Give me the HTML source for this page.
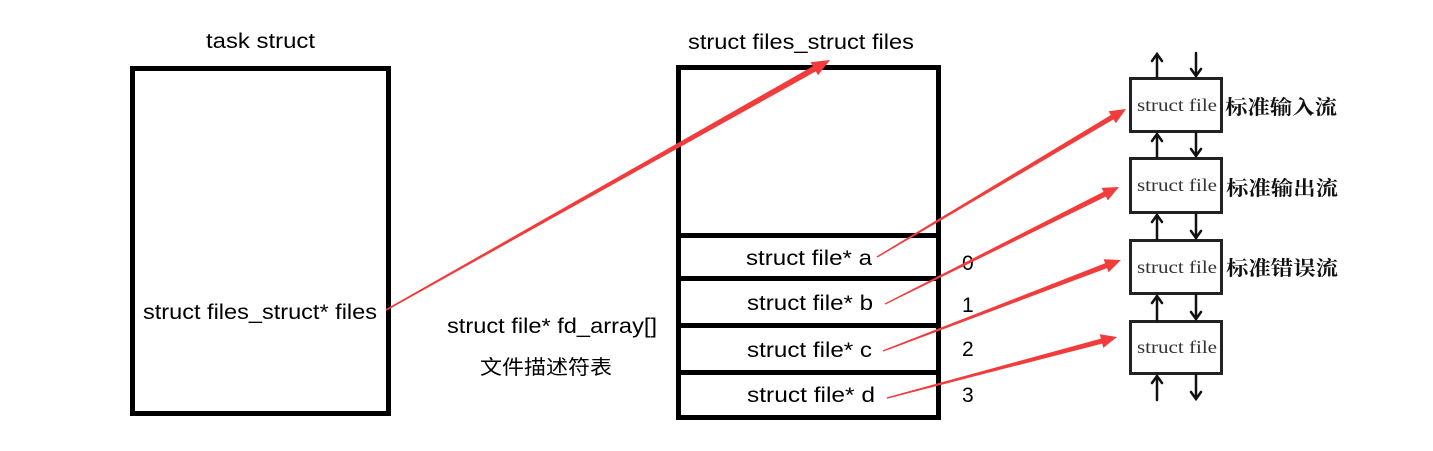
<!DOCTYPE html>
<html><head><meta charset="utf-8"><style>
html,body{margin:0;padding:0;background:#fff;}
svg{display:block;}
.t{font-family:"Liberation Sans","Noto Sans CJK SC",sans-serif;font-size:21px;fill:#000;}
.c{font-family:"Liberation Sans","Noto Sans CJK SC",sans-serif;font-size:20px;fill:#000;}
.s{font-family:"Liberation Serif",serif;font-size:18px;fill:#333;}
.z{font-family:"Liberation Serif","Noto Serif CJK SC",serif;font-size:20px;fill:#111;font-weight:bold;}
</style></head><body>
<svg width="1433" height="451" viewBox="0 0 1433 451" xmlns="http://www.w3.org/2000/svg">
<rect width="1433" height="451" fill="#fff"/>
<!-- left box -->
<rect x="132.5" y="68.5" width="256" height="345" fill="none" stroke="#000" stroke-width="5"/>
<text class="t" x="206" y="48" textLength="109" lengthAdjust="spacingAndGlyphs">task  struct</text>
<text class="t" x="143" y="319" textLength="234" lengthAdjust="spacingAndGlyphs">struct files_struct* files</text>
<!-- middle box -->
<rect x="678.5" y="67.5" width="260" height="350" fill="none" stroke="#000" stroke-width="5"/>
<line x1="676" y1="235.5" x2="941" y2="235.5" stroke="#000" stroke-width="5"/>
<line x1="676" y1="278.5" x2="941" y2="278.5" stroke="#000" stroke-width="5"/>
<line x1="676" y1="325.5" x2="941" y2="325.5" stroke="#000" stroke-width="5"/>
<line x1="676" y1="372.5" x2="941" y2="372.5" stroke="#000" stroke-width="5"/>
<text class="t" x="688" y="49" textLength="226" lengthAdjust="spacingAndGlyphs">struct files_struct files</text>
<text class="t" x="746" y="265" textLength="126" lengthAdjust="spacingAndGlyphs">struct file* a</text>
<text class="t" x="747" y="310" textLength="126" lengthAdjust="spacingAndGlyphs">struct file* b</text>
<text class="t" x="747" y="357" textLength="125" lengthAdjust="spacingAndGlyphs">struct file* c</text>
<text class="t" x="747" y="402" textLength="128" lengthAdjust="spacingAndGlyphs">struct file* d</text>
<text class="t" x="962" y="270">0</text>
<text class="t" x="962" y="312">1</text>
<text class="t" x="962" y="356">2</text>
<text class="t" x="962" y="402">3</text>
<text class="t" x="447" y="333" textLength="210" lengthAdjust="spacingAndGlyphs">struct file* fd_array[]</text>
<text class="c" x="480" y="374" textLength="132" lengthAdjust="spacingAndGlyphs">文件描述符表</text>
<!-- right boxes -->
<g fill="none" stroke="#222" stroke-width="3">
<rect x="1130.5" y="78.5" width="91" height="53"/>
<rect x="1130.5" y="158.5" width="91" height="54"/>
<rect x="1130.5" y="240.5" width="91" height="53"/>
<rect x="1130.5" y="321.5" width="91" height="52"/>
</g>
<text class="s" x="1137" y="111" textLength="80" lengthAdjust="spacingAndGlyphs">struct file</text>
<text class="s" x="1137" y="191" textLength="80" lengthAdjust="spacingAndGlyphs">struct file</text>
<text class="s" x="1137" y="273" textLength="80" lengthAdjust="spacingAndGlyphs">struct file</text>
<text class="s" x="1137" y="353" textLength="80" lengthAdjust="spacingAndGlyphs">struct file</text>
<text class="z" x="1225" y="114" textLength="112" lengthAdjust="spacingAndGlyphs">标准输入流</text>
<text class="z" x="1226" y="195" textLength="112" lengthAdjust="spacingAndGlyphs">标准输出流</text>
<text class="z" x="1226" y="275" textLength="112" lengthAdjust="spacingAndGlyphs">标准错误流</text>
<!-- black small arrows -->
<g stroke="#111" stroke-width="2.5" fill="none" stroke-linecap="round">
<line x1="1157" y1="77" x2="1157" y2="54"/><polyline points="1152,61 1157,54 1162,61"/>
<line x1="1196" y1="53" x2="1196" y2="76"/><polyline points="1191,69 1196,76 1201,69"/>
<line x1="1157" y1="157" x2="1157" y2="134"/><polyline points="1152,141 1157,134 1162,141"/>
<line x1="1196" y1="133" x2="1196" y2="156"/><polyline points="1191,149 1196,156 1201,149"/>
<line x1="1157" y1="239" x2="1157" y2="215"/><polyline points="1152,222 1157,215 1162,222"/>
<line x1="1196" y1="214" x2="1196" y2="238"/><polyline points="1191,231 1196,238 1201,231"/>
<line x1="1157" y1="320" x2="1157" y2="296"/><polyline points="1152,303 1157,296 1162,303"/>
<line x1="1196" y1="295" x2="1196" y2="319"/><polyline points="1191,312 1196,319 1201,312"/>
<line x1="1157" y1="400" x2="1157" y2="376"/><polyline points="1152,383 1157,376 1162,383"/>
<line x1="1196" y1="375" x2="1196" y2="399"/><polyline points="1191,392 1196,399 1201,392"/>
</g>
<!-- red arrows -->
<g fill="#f23c3c">
<polygon points="386.4,310.7 385.6,309.3 812.8,66.2 810.6,62.3 830,60 818.0,75.3 815.8,71.4"/>
<polygon points="877.4,257.6 876.6,256.4 1110.9,115.0 1108.6,111.2 1126,109 1115.8,123.2 1113.5,119.4"/>
<polygon points="885.3,304.6 884.7,303.4 1103.5,191.8 1101.6,187.9 1119,187 1107.8,200.4 1105.9,196.5"/>
<polygon points="883.25,351.65 882.75,350.35 1105.1,263.3 1103.6,259.2 1121,260 1108.6,272.2 1107.0,268.1"/>
<polygon points="887.2,398.7 886.8,397.3 1100.9,338.6 1099.7,334.3 1117,337 1103.3,347.9 1102.2,343.6"/>
</g>
</svg>
</body></html>
